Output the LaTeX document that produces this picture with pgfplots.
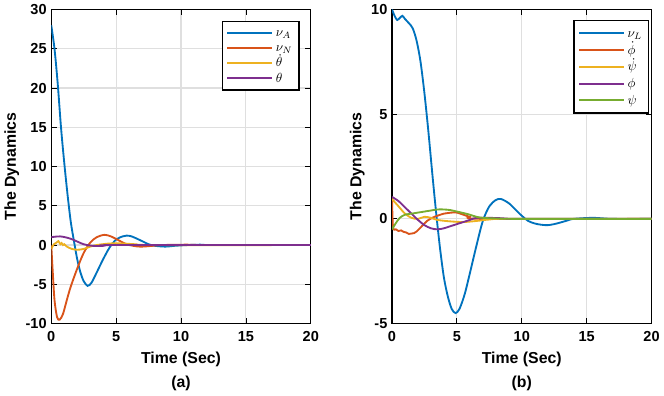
\documentclass[border=0pt]{standalone}
\usepackage{pgfplots}
\pgfplotsset{compat=1.18}
\usepackage{fontspec}
\setmainfont{Liberation Sans}

\definecolor{mblue}{rgb}{0,0.447,0.741}
\definecolor{morange}{rgb}{0.85,0.325,0.098}
\definecolor{myellow}{rgb}{0.929,0.694,0.125}
\definecolor{mpurple}{rgb}{0.494,0.184,0.556}
\definecolor{mgreen}{rgb}{0.466,0.674,0.188}

\pgfplotsset{
  mystyle/.style={
    width=196.5pt, height=237.75pt,
    scale only axis,
    xmin=0, xmax=20,
    xtick={0,5,10,15,20},
    grid=major,
    grid style={gray!25, line width=0.9pt},
    axis line style={line width=0.8pt},
    tick style={black, line width=0.6pt},
    tick align=inside,
    major tick length=4pt,
    tick label style={font=\fontsize{11}{12}\selectfont\bfseries},
    xticklabel style={yshift=-2.5pt},
    label style={font=\fontsize{12}{13}\selectfont\bfseries},
    /pgf/number format/assume math mode=true,
    xlabel style={align=center, yshift=-1pt},
    ylabel style={yshift=-2pt},
    ylabel={The Dynamics},
    legend cell align=left,
    legend style={draw=black, line width=1.2pt, fill=white,
      font=\normalsize, row sep=0pt, inner xsep=3pt, inner ysep=3pt,
      nodes={inner ysep=0.5pt, inner xsep=2pt, text height=8pt, text depth=2.5pt}},
    legend image code/.code={\draw[line width=1.5pt] (0pt,0pt) -- (34pt,0pt);},
    every axis plot/.append style={line width=1.4pt, smooth},
  }
}

\begin{document}
\begin{tikzpicture}

\begin{axis}[mystyle,
  ymin=-10, ymax=30,
  ytick={-10,-5,0,5,10,15,20,25,30},
  xlabel={Time (Sec)\\[5pt](a)},
  legend style={at={(0.958,0.965)}, anchor=north east},
]
\addplot[mblue] coordinates {(0,28) (0.25,25) (0.5,20.5) (0.75,15) (1.0,10.5) (1.25,6.5) (1.5,3) (1.75,0.5) (2.0,-1.8) (2.25,-3.5) (2.5,-4.6) (2.8,-5.2) (3.1,-4.8) (3.5,-3.5) (4.0,-1.8) (4.5,-0.3) (5,0.7) (5.5,1.1) (5.8,1.2) (6.2,1.1) (7,0.5) (7.5,0.1) (8,-0.1) (8.8,-0.2) (9.5,-0.1) (10.5,0) (11.5,0.05) (12.5,0) (20,0)};
\addlegendentry{$\nu_A$}
\addplot[morange] coordinates {(0,0) (0.1,-3) (0.25,-7) (0.45,-9.2) (0.65,-9.5) (0.9,-8.8) (1.2,-7) (1.5,-5.3) (2.0,-3) (2.5,-1) (3.0,0.3) (3.5,1.0) (4.1,1.3) (4.6,1.1) (5.2,0.6) (5.8,0.1) (6.5,-0.15) (7.0,-0.2) (7.8,-0.1) (8.5,0) (10.5,0.05) (12,0) (20,0)};
\addlegendentry{$\nu_N$}
\addplot[myellow] coordinates {(0,-0.5) (0.2,0.1) (0.4,0.3) (0.55,0.5) (0.7,0.1) (0.8,0.25) (0.9,0.0) (1.0,0.1) (1.2,-0.2) (1.6,-0.5) (2.0,-0.6) (2.5,-0.5) (3.0,-0.2) (3.5,0) (4.5,0.2) (5.5,0.2) (6.5,0.1) (8,0) (20,0)};
\addlegendentry{$\dot{\theta}$}
\addplot[mpurple] coordinates {(0,1.0) (0.7,1.1) (1.5,0.8) (2.5,0.1) (3.2,-0.1) (4,-0.1) (5,0) (20,0)};
\addlegendentry{$\theta$}
\end{axis}

\begin{axis}[mystyle, xshift=258pt,
  ymin=-5, ymax=10,
  ytick={-5,0,5,10},
  xlabel={Time (Sec)\\[5pt](b)},
  legend style={at={(0.992,0.968)}, anchor=north east,
    nodes={text height=9.2pt, text depth=2.6pt}},
]
\addplot[mblue] coordinates {(0,10) (0.2,9.7) (0.4,9.5) (0.6,9.6) (0.8,9.7) (1.0,9.55) (1.3,9.35) (1.6,9.1) (1.9,8.5) (2.2,7.5) (2.5,6.0) (2.8,4.2) (3.1,2.2) (3.4,0.3) (3.7,-1.4) (4.0,-2.8) (4.3,-3.7) (4.6,-4.3) (4.9,-4.5) (5.2,-4.3) (5.6,-3.6) (6.0,-2.6) (6.5,-1.3) (7.0,-0.1) (7.5,0.6) (8.0,0.9) (8.4,0.95) (9.0,0.75) (9.5,0.45) (10.0,0.15) (10.5,-0.1) (11.0,-0.22) (11.5,-0.28) (12.0,-0.3) (12.5,-0.25) (13,-0.17) (13.5,-0.08) (14,0) (15.5,0.05) (17,0) (20,0)};
\addlegendentry{$\nu_L$}
\addplot[morange] coordinates {(0,1.0) (0.08,-0.4) (0.3,-0.5) (0.5,-0.58) (0.7,-0.55) (0.9,-0.62) (1.1,-0.65) (1.3,-0.72) (1.5,-0.7) (1.7,-0.68) (1.9,-0.6) (2.3,-0.35) (2.7,-0.1) (3.1,0.05) (3.5,0.15) (4.0,0.25) (4.6,0.3) (5.0,0.3) (5.5,0.2) (6.0,0.1) (7,0) (20,0)};
\addlegendentry{$\dot{\phi}$}
\addplot[myellow] coordinates {(0,0.95) (0.5,0.6) (1.0,0.25) (1.5,0.05) (2.0,0.0) (2.5,0.1) (3.0,0.05) (3.5,-0.05) (4.5,-0.12) (5.5,-0.15) (6.5,-0.1) (7.5,-0.03) (9,0) (20,0)};
\addlegendentry{$\dot{\psi}$}
\addplot[mpurple] coordinates {(0,1.05) (0.5,0.85) (1.0,0.55) (1.5,0.25) (2.0,-0.05) (2.5,-0.3) (3.0,-0.45) (3.5,-0.5) (4.0,-0.45) (4.5,-0.35) (5.0,-0.25) (5.5,-0.15) (6.0,-0.05) (6.5,0.05) (7.5,0.05) (8.5,0.03) (10,0) (20,0)};
\addlegendentry{$\phi$}
\addplot[mgreen] coordinates {(0,-0.5) (0.3,-0.2) (0.6,0.05) (1.0,0.2) (1.5,0.25) (2.0,0.3) (2.5,0.35) (3.0,0.4) (3.5,0.45) (4.0,0.45) (4.5,0.42) (5.0,0.35) (5.5,0.28) (6.0,0.2) (6.5,0.1) (7.0,0.05) (8,0.02) (10,0) (20,0)};
\addlegendentry{$\psi$}
\end{axis}

\end{tikzpicture}
\end{document}
